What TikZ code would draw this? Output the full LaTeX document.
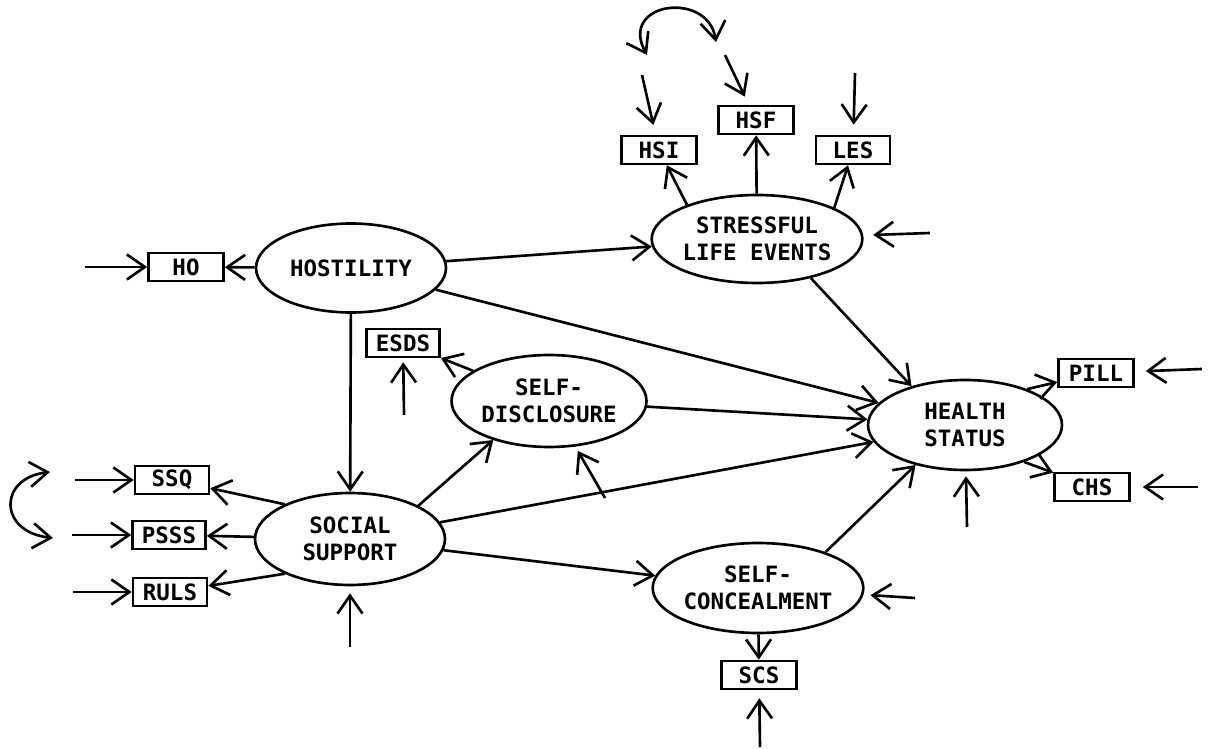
\documentclass[tikz,border=0pt]{standalone}
\usepackage{fontspec}
\setmonofont{DejaVu Sans Mono}
\usetikzlibrary{shapes.geometric,arrows.meta}
\tikzset{
  lat/.style={ellipse, draw, line width=1.5pt, inner sep=0pt, align=center,
    font=\ttfamily\bfseries\fontsize{12.8}{15.5}\selectfont},
  obs/.style={rectangle, draw, line width=1.5pt, inner sep=0pt, minimum width=1.5cm, minimum height=0.56cm,
    font=\ttfamily\bfseries\fontsize{12.8}{15.5}\selectfont},
  pth/.style={line width=1.5pt, -{Straight Barb[length=0.36cm,width=0.5cm,line width=1.5pt]}},
  dbl/.style={line width=1.5pt, {Straight Barb[length=0.36cm,width=0.5cm,line width=1.5pt]}-{Straight Barb[length=0.36cm,width=0.5cm,line width=1.5pt]}}
}
\begin{document}
\begin{tikzpicture}[x=0.02cm,y=-0.02cm]
\useasboundingbox (0,0) rectangle (1213,749);
% latent variables
\node[lat, minimum width=3.8cm, minimum height=1.78cm] (ho) at (351,268) {HOSTILITY};
\node[lat, minimum width=3.84cm, minimum height=1.76cm] (st) at (757,239) {STRESSFUL\\LIFE EVENTS};
\node[lat, minimum width=3.9cm, minimum height=1.84cm] (sd) at (549,401) {SELF-\\DISCLOSURE};
\node[lat, minimum width=3.88cm, minimum height=1.8cm] (hs) at (965,425) {HEALTH\\STATUS};
\node[lat, minimum width=3.8cm, minimum height=1.84cm] (ss) at (350,539) {SOCIAL\\SUPPORT};
\node[lat, minimum width=3.82cm, minimum height=1.8cm] (sc) at (758,588) {SELF-\\CONCEALMENT};
% indicators
\node[obs] (hob) at (186,267) {HO};
\node[obs, minimum width=1.46cm] (esds) at (403,343) {ESDS};
\node[obs] (hsi) at (659,150) {HSI};
\node[obs] (hsf) at (756,120) {HSF};
\node[obs, minimum width=1.48cm] (les) at (853,150) {LES};
\node[obs] (pill) at (1096,373) {PILL};
\node[obs] (chs) at (1092,487) {CHS};
\node[obs, minimum width=1.48cm] (ssq) at (172,480) {SSQ};
\node[obs, minimum width=1.46cm] (psss) at (169,535) {PSSS};
\node[obs, minimum width=1.48cm] (ruls) at (170,592) {RULS};
\node[obs] (scs) at (759,675) {SCS};
% structural paths
\draw[pth] (ho) -- (hob);
\draw[pth] (ho) -- (st);
\draw[pth] (ho) -- (hs);
\draw[pth] (ho) -- (ss);
\draw[pth] (st.154) -- (hsi);
\draw[pth] (st) -- (hsf);
\draw[pth] (st.22) -- (les);
\draw[pth] (st.-36) -- (hs.144);
\draw[pth] (sd) -- (esds);
\draw[pth] (sd) -- (hs);
\draw[pth] (ss.152) -- (ssq);
\draw[pth] (ss) -- (psss);
\draw[pth] (ss.208) -- (ruls);
\draw[pth] (ss.26) -- (sd.215);
\draw[pth] (ss) -- (hs);
\draw[pth] (ss) -- (sc);
\draw[pth] (sc.28) -- (hs.-141);
\draw[pth] (sc) -- (scs);
\draw[pth] (hs.30) -- (pill);
\draw[pth] (hs.-32) -- (chs);
% error terms
\coordinate (eho) at (85,267);
\coordinate (ehsi) at (642,75);
\coordinate (ehsf) at (725,55);
\coordinate (eles) at (855,73);
\coordinate (est) at (930,233);
\coordinate (essq) at (75,480);
\coordinate (epsss) at (72,535);
\coordinate (eruls) at (73,592);
\coordinate (ess) at (350,647);
\coordinate (eesds) at (404,415);
\coordinate (esd) at (605,498);
\coordinate (ehs) at (967,527);
\coordinate (epill) at (1202,369);
\coordinate (echs) at (1198,487);
\coordinate (esc) at (915,598);
\coordinate (escs) at (760,747);
\draw[pth] (eho) -- (hob);
\draw[pth, shorten >=0.2cm] (ehsi) -- (hsi);
\draw[pth, shorten >=0.18cm] (ehsf) -- (hsf);
\draw[pth, shorten >=0.2cm] (eles) -- (les);
\draw[pth, shorten >=0.2cm] (est) -- (st);
\draw[pth] (essq) -- (ssq);
\draw[pth] (epsss) -- (psss);
\draw[pth] (eruls) -- (ruls);
\draw[pth, shorten >=0.14cm] (ess) -- (ss);
\draw[pth, shorten >=0.08cm] (eesds) -- (esds);
\draw[pth, shorten >=0.1cm] (esd) -- (sd);
\draw[pth, shorten >=0.1cm] (ehs) -- (hs);
\draw[pth, shorten >=0.22cm] (epill) -- (pill);
\draw[pth, shorten >=0.24cm] (echs) -- (chs);
\draw[pth, shorten >=0.14cm] (esc) -- (sc);
\draw[pth, shorten >=0.16cm] (escs) -- (scs);
% correlated errors
\coordinate (c1a) at (647,55);
\coordinate (c1b) at (716,42);
\draw[dbl] (c1a) .. controls (618,2) and (708,-10) .. (c1b);
\coordinate (c2a) at (50,472);
\coordinate (c2b) at (53,538);
\draw[dbl] (c2a) .. controls (-2,478) and (-2,532) .. (c2b);
\end{tikzpicture}
\end{document}
